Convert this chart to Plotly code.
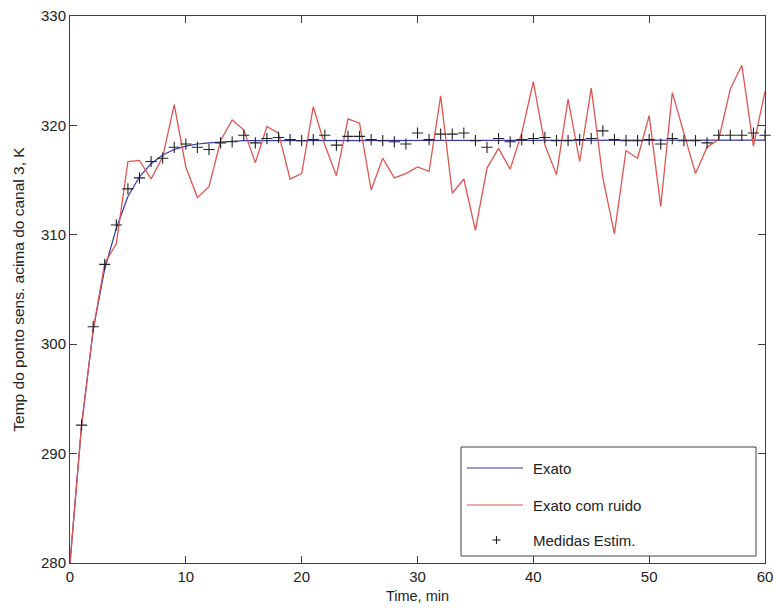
import plotly.graph_objects as go

# Time axis (minutes) and the three series
time_min = list(range(0, 61))

# Exact response
exato = [280.0, 292.6, 301.3, 306.9, 310.6, 313.5, 315.3, 316.5, 317.3, 317.8,
         318.1, 318.3, 318.4, 318.5, 318.55, 318.6, 318.6, 318.65, 318.65, 318.65,
         318.65, 318.65, 318.65, 318.65, 318.65, 318.65, 318.65, 318.65, 318.65, 318.65,
         318.65, 318.65, 318.65, 318.65, 318.65, 318.65, 318.65, 318.65, 318.65, 318.65,
         318.65, 318.65, 318.65, 318.65, 318.65, 318.65, 318.65, 318.65, 318.65, 318.65,
         318.65, 318.65, 318.65, 318.65, 318.65, 318.65, 318.65, 318.65, 318.65, 318.65,
         318.65]

# Exact response with noise
com_ruido = [280.0, 292.6, 301.3, 307.4, 309.2, 316.7, 316.8, 315.1, 317.1, 321.9,
             316.2, 313.4, 314.4, 318.6, 320.5, 319.6, 316.6, 319.9, 319.3, 315.1,
             315.6, 321.7, 318.2, 315.4, 320.6, 320.2, 314.1, 317.0, 315.2, 315.6,
             316.2, 315.8, 322.7, 313.8, 315.1, 310.4, 316.1, 317.9, 316.0, 319.3,
             324.0, 318.2, 315.5, 322.4, 316.7, 323.4, 315.2, 310.1, 317.7, 317.0,
             320.9, 312.6, 323.0, 319.3, 315.6, 318.0, 318.7, 323.3, 325.5, 318.1,
             323.1]

# Estimated measurements (from minute 1 onward)
medidas_t = list(range(1, 61))
medidas = [292.6, 301.6, 307.3, 310.9, 314.2, 315.2, 316.7, 317.0, 318.0, 318.3,
           318.0, 317.8, 318.4, 318.5, 319.1, 318.4, 318.8, 318.9, 318.7, 318.6,
           318.7, 319.1, 318.2, 319.0, 319.0, 318.7, 318.6, 318.5, 318.3, 319.3,
           318.7, 319.2, 319.2, 319.3, 318.6, 318.0, 318.8, 318.5, 318.7, 318.8,
           318.9, 318.6, 318.6, 318.7, 318.8, 319.5, 318.7, 318.6, 318.6, 318.7,
           318.3, 318.8, 318.6, 318.6, 318.4, 319.1, 319.1, 319.1, 319.3, 319.1]

legend_labels = ["Exato", "Exato com ruido", "Medidas Estim."]

BLUE = "#3438a8"
RED = "#de5552"
MARK = "#222222"
AXIS = "#404040"
FONT = "Liberation Sans, Arial, sans-serif"

fig = go.Figure()
fig.add_trace(go.Scatter(x=time_min, y=exato, mode="lines",
                         line=dict(color=BLUE, width=1.2), showlegend=False))
fig.add_trace(go.Scatter(x=time_min, y=com_ruido, mode="lines",
                         line=dict(color=RED, width=1.3), showlegend=False))
fig.add_trace(go.Scatter(x=medidas_t, y=medidas, mode="markers",
                         marker=dict(symbol="cross-thin", size=8,
                                     line=dict(color=MARK, width=1.1)),
                         showlegend=False, cliponaxis=False))

# Boxed legend in the lower-right corner of the axes
L, R, T, B = 70, 765, 16, 563
W, H = R - L, B - T


def px(x):
    return (x - L) / W


def py(y):
    return (B - y) / H


shapes = [dict(type="rect", xref="paper", yref="paper",
               x0=px(461), x1=px(756), y0=py(556), y1=py(447),
               line=dict(color=AXIS, width=1), fillcolor="white", layer="above")]
rows = [468, 505, 540]
for yy, col in zip(rows[:2], [BLUE, RED]):
    shapes.append(dict(type="line", xref="paper", yref="paper",
                       x0=px(467), x1=px(523), y0=py(yy), y1=py(yy),
                       line=dict(color=col, width=1.2), layer="above"))
cx, cy, h = 496.5, rows[2], 4
shapes.append(dict(type="line", xref="paper", yref="paper",
                   x0=px(cx - h), x1=px(cx + h), y0=py(cy), y1=py(cy),
                   line=dict(color=MARK, width=1.1), layer="above"))
shapes.append(dict(type="line", xref="paper", yref="paper",
                   x0=px(cx), x1=px(cx), y0=py(cy - h), y1=py(cy + h),
                   line=dict(color=MARK, width=1.1), layer="above"))

annotations = []
for yy, txt in zip(rows, legend_labels):
    annotations.append(dict(xref="paper", yref="paper", x=px(531), y=py(yy),
                            xanchor="left", yanchor="middle", text=txt,
                            showarrow=False,
                            font=dict(family=FONT, size=15, color="#222")))

axis_common = dict(showline=True, linecolor=AXIS, linewidth=1, mirror="ticks",
                   ticks="inside", ticklen=7, tickcolor=AXIS, tickwidth=1,
                   showgrid=False, zeroline=False, automargin=False,
                   tickfont=dict(family=FONT, size=15, color="#222"))

fig.update_layout(
    width=774, height=608,
    margin=dict(l=L, r=774 - R, t=T, b=608 - B),
    paper_bgcolor="white", plot_bgcolor="white",
    shapes=shapes, annotations=annotations,
    xaxis=dict(range=[0, 60], tickvals=[0, 10, 20, 30, 40, 50, 60],
               title=dict(text="Time, min", standoff=6,
                          font=dict(family=FONT, size=14.5, color="#222")),
               **axis_common),
    yaxis=dict(range=[280, 330], tickvals=[280, 290, 300, 310, 320, 330],
               title=dict(text="Temp do ponto sens. acima do canal 3, K", standoff=12,
                          font=dict(family=FONT, size=15.5, color="#222")),
               **axis_common),
)

fig.write_html("out.html")
